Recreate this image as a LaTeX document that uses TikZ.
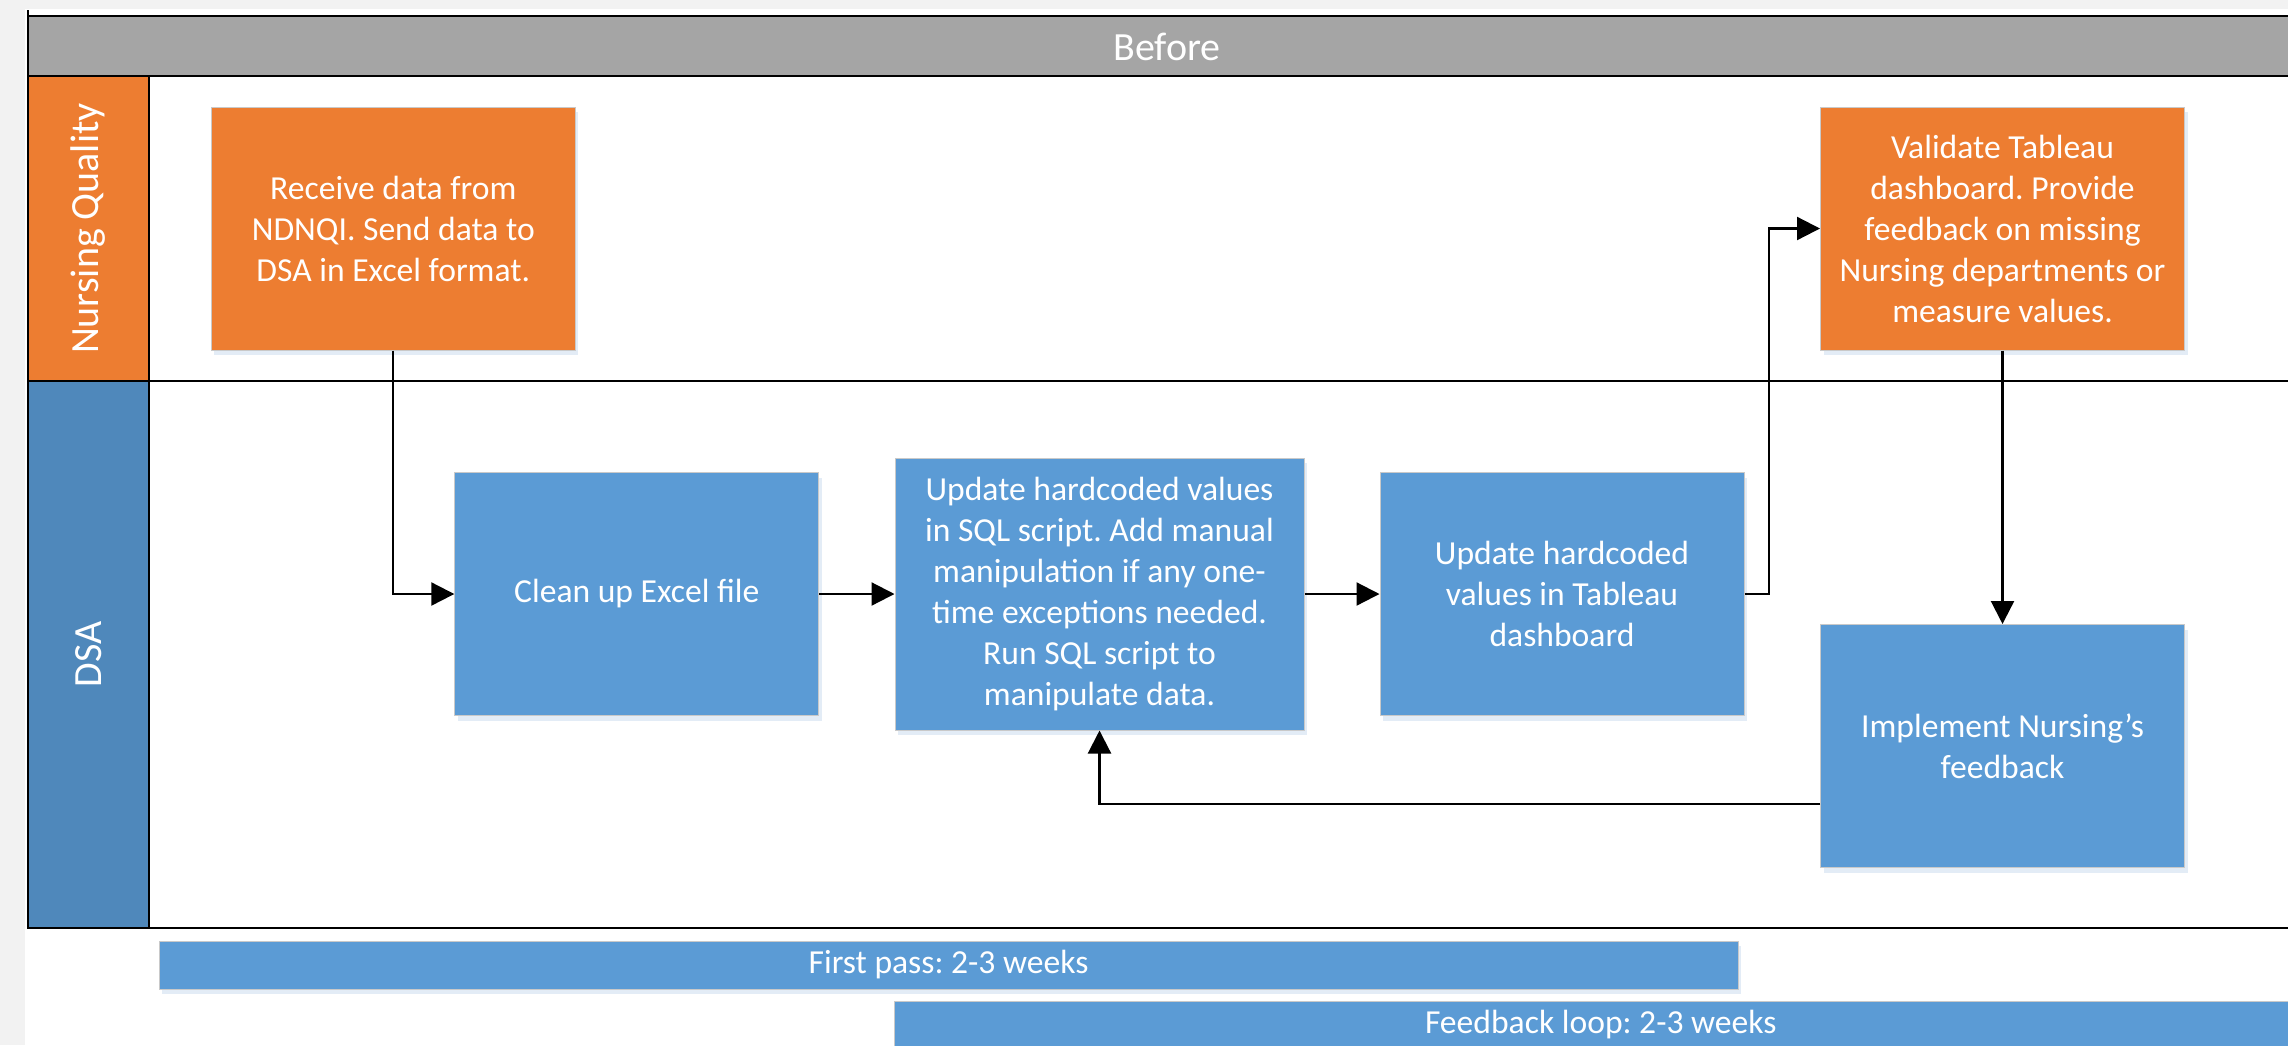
\documentclass[tikz,border=0pt]{standalone}
\usepackage{fontspec}
\setmainfont{Carlito}
\frenchspacing
\usetikzlibrary{arrows.meta,shadows}
\definecolor{bgc}{HTML}{F2F2F2}
\definecolor{orng}{HTML}{ED7D31}
\definecolor{blu}{HTML}{5B9BD5}
\definecolor{dblu}{HTML}{4F88BB}
\definecolor{hdrc}{HTML}{A5A5A5}
\definecolor{bord}{HTML}{C9C9C9}
\definecolor{shad}{HTML}{DDE8F4}
\begin{document}
\frenchspacing
\begin{tikzpicture}[x=1pt,y=-1pt,
  boxtext/.style={font=\frenchspacing\fontsize{33.6}{41}\selectfont, text=white, align=center, inner sep=0pt},
  procbox/.style={boxtext, rectangle, draw=bord, line width=1pt, minimum width=364pt, minimum height=243pt,
    drop shadow={shadow xshift=3pt,shadow yshift=-5pt,fill=shad,opacity=0.8}},
  orbox/.style={procbox, fill=orng},
  blbox/.style={procbox, fill=blu},
  barbox/.style={boxtext, rectangle, fill=blu, draw=bord, line width=1pt, minimum height=48pt,
    drop shadow={shadow xshift=3pt,shadow yshift=-5pt,fill=shad,opacity=0.8}},
  lanetext/.style={font=\fontsize{40}{48}\selectfont, text=white, inner sep=0pt},
  frameline/.style={line width=2.4pt, draw=black},
  conn/.style={line width=2.2pt, draw=black, -{Triangle[length=23pt,width=23pt]}}
]
\useasboundingbox (0,0) rectangle (2288,1045);
\clip (0,0) rectangle (2288,1045);
\fill[bgc] (0,0) rectangle (2288,1045);
\fill[white] (25,9) rectangle (2288,1045);

% header and lane columns
\fill[hdrc] (28,16) rectangle (2310,76);
\node[lanetext] (hdr) at (1167,46.5) {Before};
\fill[orng] (28,76) rectangle (149,381);
\fill[dblu] (28,381) rectangle (149,928);
\node[lanetext, rotate=90] (nq) at (88.5,228.5) {Nursing Quality};
\node[lanetext, rotate=90] (dsa) at (88.5,654.5) {DSA};

% frame lines
\draw[frameline] (28,16) -- (2310,16);
\draw[frameline] (28,76) -- (2310,76);
\draw[frameline] (28,381) -- (2310,381);
\draw[frameline] (28,928) -- (2310,928);
\draw[frameline] (28,10) -- (28,929.2);
\draw[frameline] (149,76) -- (149,928);

% process boxes
\node[orbox] (b1) at (393.3,228.5) {Receive data from\\NDNQI. Send data to\\DSA in Excel format.};
\node[orbox] (b2) at (2002.5,228.5) {Validate Tableau\\dashboard. Provide\\feedback on missing\\Nursing departments or\\measure values.};
\node[blbox] (b3) at (636.8,594) {Clean up Excel file};
\node[blbox, minimum width=409pt, minimum height=272pt] (b4) at (1099.5,594) {Update hardcoded values\\in SQL script. Add manual\\manipulation if any one-\\time exceptions needed.\\Run SQL script to\\manipulate data.};
\node[blbox] (b5) at (1562,594) {Update hardcoded\\values in Tableau\\dashboard};
\node[blbox] (b6) at (2002.5,746) {Implement Nursing’s\\feedback};

% connectors
\draw[conn] (b1.south) |- (b3.west);
\draw[conn] (b3.east) -- (b4.west);
\draw[conn] (b4.east) -- (b5.west);
\draw[conn] (b5.east) -- ++(24.5,0) |- (b2.west);
\draw[conn] (b2.south) -- (b6.north);
\draw[conn] ([yshift=-58pt]b6.west) -| (b4.south);

% duration bars
\node[barbox, minimum width=1579pt] (fp) at (948.5,965) {First pass: 2-3 weeks};
\node[barbox, minimum width=1412.5pt] (fl) at (1600.75,1025) {Feedback loop: 2-3 weeks};
\end{tikzpicture}
\end{document}
